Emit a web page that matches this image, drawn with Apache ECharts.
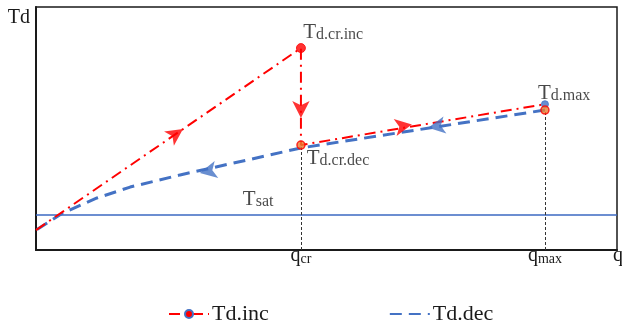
<!DOCTYPE html>
<html>
<head>
<meta charset="utf-8">
<script src="https://cdn.jsdelivr.net/npm/echarts@6/dist/echarts.min.js"></script>
<style>
html, body { margin: 0; padding: 0; background: #fff; }
#chart { width: 622px; height: 324px; }
</style>
</head>
<body>
<div id="chart"></div>
<script>
var dom = document.getElementById("chart");
var myChart = echarts.init(dom);

// 关键点
var qCr = 4.56, qMax = 8.76, tSat = 1.44;

// Td.inc 曲线 (q 增大)
var incQ = [0, 4.56, 4.56, 8.76];
var incT = [0.82, 8.31, 4.32, 6.00];

// Td.dec 曲线 (q 减小)
var decQ = [8.76, 4.56, 3.63, 2.48, 1.62, 1.05, 0.46, 0];
var decT = [5.76, 4.20, 3.70, 3.09, 2.59, 2.14, 1.52, 0.82];

// 方向箭头
var incArrowQ = [2.53, 4.56, 6.47];
var incArrowT = [4.98, 5.43, 5.16];
var incArrowRot = [-55.5, 180, -80.4];
var decArrowQ = [6.75, 2.82];
var decArrowT = [5.03, 3.17];
var decArrowRot = [99.6, 102];

// 标注点
var dotQ = [4.56, 4.56, 8.76, 8.76];
var dotT = [8.31, 4.32, 6.00, 5.76];

// 文字标注
var noteSub = ['d.cr.inc', 'd.cr.dec', 'd.max', 'sat'];
var noteQ = [4.60, 4.66, 8.64, 3.56];
var noteT = [8.95, 3.77, 6.44, 2.08];

var xTickValues = [qCr, qMax];
var xTickSubs = ['cr', 'max'];

var serif = 'Liberation Serif';
var ink = '#1a1a1a';
var red = '#ff0000', blue = '#4472c4', orange = '#ed7d31';

function makeRich(big, small, pad) {
    return {
        t: {fontFamily: serif, fontSize: big, lineHeight: big, verticalAlign: 'top', color: ink},
        s: {fontFamily: serif, fontSize: small, lineHeight: small, verticalAlign: 'bottom', padding: [pad, 0, 0, 0], color: ink}
    };
}

function zip(a, b) {
    return a.map(function (v, i) { return [v, b[i]]; });
}

var dotStyles = [
    {color: red, borderColor: red, borderWidth: 1, size: 9},
    {color: orange, borderColor: red, borderWidth: 1.5, size: 8},
    {color: blue, borderColor: blue, borderWidth: 1, size: 7},
    {color: orange, borderColor: red, borderWidth: 1.5, size: 8}
];

var option = {
    animation: false,
    backgroundColor: '#fff',
    grid: {
        left: 36, top: 7, right: 5, bottom: 74,
        outerBoundsMode: 'none',
        containLabel: false,
        show: true, borderColor: ink, borderWidth: 1.5
    },
    legend: {
        top: 298,
        left: 163,
        itemWidth: 40,
        itemHeight: 10,
        itemGap: 120,
        textStyle: {fontFamily: serif, fontSize: 22, color: ink, padding: [0, 0, 0, -2]},
        data: [
            {name: 'Td.inc'},
            {name: 'Td.dec', itemStyle: {color: 'rgba(0,0,0,0)', borderWidth: 0}}
        ]
    },
    xAxis: {
        type: 'value', min: 0, max: 10,
        name: 'q', nameLocation: 'end', nameGap: -4,
        nameTextStyle: {fontFamily: serif, fontSize: 20, color: ink, align: 'left', verticalAlign: 'top', lineHeight: 12},
        axisLine: {show: true, lineStyle: {color: ink, width: 2}},
        axisTick: {show: false},
        splitLine: {show: false},
        axisLabel: {
            customValues: xTickValues,
            margin: -4,
            formatter: function (v) {
                var i = xTickValues.indexOf(v);
                return '{t|q}{s|' + (i >= 0 ? xTickSubs[i] : '') + '}';
            },
            rich: makeRich(20, 14, 9)
        }
    },
    yAxis: {
        type: 'value', min: 0, max: 10,
        name: 'Td', nameLocation: 'end', nameGap: -11,
        nameTextStyle: {fontFamily: serif, fontSize: 20, color: ink, align: 'right', verticalAlign: 'middle', padding: [0, 6, 0, 0]},
        axisLine: {show: true, lineStyle: {color: ink, width: 2}},
        axisTick: {show: false},
        axisLabel: {show: false},
        splitLine: {show: false}
    },
    series: [
        {
            name: 'Tsat',
            type: 'line',
            data: [[0, tSat], [10, tSat]],
            symbol: 'none',
            silent: true,
            lineStyle: {color: '#3b68c2', width: 1.4},
            z: 1
        },
        {
            name: 'Td.dec',
            type: 'line',
            data: zip(decQ, decT),
            smooth: false,
            symbol: 'none',
            lineStyle: {color: blue, width: 3, type: [12, 7]},
            itemStyle: {color: blue},
            z: 2
        },
        {
            name: 'Td.inc',
            type: 'line',
            data: zip(incQ, incT),
            symbol: 'circle',
            symbolSize: 7,
            showSymbol: false,
            lineStyle: {color: red, width: 2, type: [11, 5, 2, 5]},
            itemStyle: {color: red, borderColor: blue, borderWidth: 1},
            markLine: {
                silent: true,
                symbol: 'none',
                label: {show: false},
                lineStyle: {color: '#333', width: 1, type: [3, 2]},
                data: [
                    [{coord: [qCr, 0]}, {coord: [qCr, dotT[1]]}],
                    [{coord: [qMax, 0]}, {coord: [qMax, dotT[3]]}]
                ]
            },
            z: 3
        },
        {
            name: 'incArrows',
            type: 'scatter',
            symbol: 'arrow',
            symbolSize: [13, 17],
            itemStyle: {color: red},
            data: zip(incArrowQ, incArrowT).map(function (p, i) {
                return {value: p, symbolRotate: incArrowRot[i]};
            }),
            z: 4
        },
        {
            name: 'decArrows',
            type: 'scatter',
            symbol: 'arrow',
            symbolSize: [13, 17],
            itemStyle: {color: blue},
            data: zip(decArrowQ, decArrowT).map(function (p, i) {
                return {value: p, symbolRotate: decArrowRot[i]};
            }),
            z: 4
        },
        {
            name: 'dots',
            type: 'scatter',
            symbol: 'circle',
            data: zip(dotQ, dotT).map(function (p, i) {
                var s = dotStyles[i];
                return {value: p, symbolSize: s.size, itemStyle: {color: s.color, borderColor: s.borderColor, borderWidth: s.borderWidth}};
            }),
            z: 5
        },
        {
            name: 'notes',
            type: 'scatter',
            symbolSize: 0,
            silent: true,
            data: zip(noteQ, noteT),
            label: {
                show: true,
                position: 'right',
                distance: 0,
                formatter: function (p) {
                    return '{t|T}{s|' + noteSub[p.dataIndex] + '}';
                },
                rich: makeRich(21, 16, 9)
            },
            z: 6
        }
    ]
};

myChart.setOption(option);
</script>
</body>
</html>
